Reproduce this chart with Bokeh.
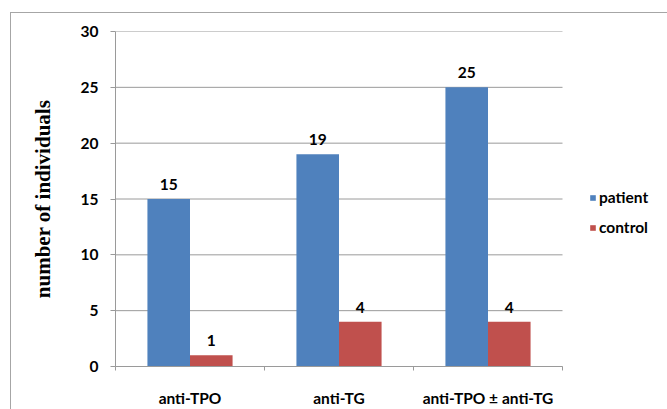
from bokeh.plotting import figure
from bokeh.models import Range1d, FixedTicker, Legend, LegendItem, ColumnDataSource
from bokeh.core.properties import value
from bokeh.embed import file_html
from bokeh.resources import INLINE

# Antibody positivity counts
categories = ["anti-TPO", "anti-TG", "anti-TPO ± anti-TG"]
patient = [15, 19, 25]
control = [1, 4, 4]
y_ticks = [0, 5, 10, 15, 20, 25, 30]

BLUE = "#4F81BD"
RED = "#C0504D"
GRID = "#9a9a9a"
FRAME = "#a6a6a6"
FONT = "Lato"
FSIZE = "15.5px"

n = len(categories)
bar_w = 1 / 3.5
centers = [i + 0.5 for i in range(n)]
x_pat = [c - bar_w / 2 for c in centers]
x_con = [c + bar_w / 2 for c in centers]

src_p = ColumnDataSource(dict(x=x_pat, top=patient, lab=[str(v) for v in patient]))
src_c = ColumnDataSource(dict(x=x_con, top=control, lab=[str(v) for v in control]))

# plot area: categories occupy 115..562 px, the rest of the frame holds the legend
PLOT_L, PLOT_R, W = 115, 562, 667
x_max = n * (W - PLOT_L) / (PLOT_R - PLOT_L)

p = figure(width=W, height=409, output_backend="svg", toolbar_location=None,
           x_range=Range1d(0, x_max), y_range=Range1d(0, 30),
           min_border_left=PLOT_L, min_border_right=0, min_border_top=31,
           min_border_bottom=38)
p.outline_line_color = None
p.background_fill_color = "white"
p.border_fill_alpha = 0
# thin grey chart-area frame (left and top edges) behind the canvas
p.styles = {
    "background-color": "white",
    "background-image": f"linear-gradient({FRAME},{FRAME}), linear-gradient({FRAME},{FRAME})",
    "background-size": "1px 100%, 100% 1px",
    "background-position": "10px 12px, 10px 12px",
    "background-repeat": "no-repeat",
}

# horizontal gridlines across the category span only
p.segment(x0=[0] * len(y_ticks), x1=[n] * len(y_ticks), y0=y_ticks, y1=y_ticks,
          line_color=GRID, line_width=1)

r_p = p.vbar(x="x", top="top", width=bar_w, source=src_p, fill_color=BLUE, line_color=None)
r_c = p.vbar(x="x", top="top", width=bar_w, source=src_c, fill_color=RED, line_color=None)

for src in (src_p, src_c):
    p.text(x="x", y="top", text="lab", source=src, text_align="center",
           text_baseline="bottom", y_offset=-9, text_font=value(FONT),
           text_font_style="bold", text_font_size=FSIZE, text_color="black")

# Y axis
p.yaxis.ticker = FixedTicker(ticks=y_ticks)
p.yaxis.axis_line_color = GRID
p.yaxis.major_tick_line_color = GRID
p.yaxis.major_tick_out = 5
p.yaxis.major_tick_in = 0
p.yaxis.minor_tick_line_color = None
p.yaxis.major_label_standoff = 12
p.yaxis.major_label_text_font = FONT
p.yaxis.major_label_text_font_style = "bold"
p.yaxis.major_label_text_font_size = FSIZE
p.yaxis.major_label_text_color = "black"
p.yaxis.axis_label = "number of individuals"
p.yaxis.axis_label_text_font = "Liberation Serif"
p.yaxis.axis_label_text_font_style = "bold"
p.yaxis.axis_label_text_font_size = "21px"
p.yaxis.axis_label_text_color = "black"
p.yaxis.axis_label_standoff = 23

# X axis: labels at category centres, ticks at category boundaries
p.xaxis.bounds = (0, n)
p.xaxis.ticker = FixedTicker(ticks=centers, minor_ticks=list(range(n + 1)))
p.xaxis.major_label_overrides = {c: name for c, name in zip(centers, categories)}
p.xaxis.axis_line_color = GRID
p.xaxis.major_tick_line_color = None
p.xaxis.minor_tick_line_color = GRID
p.xaxis.minor_tick_out = 4
p.xaxis.minor_tick_in = 0
p.xaxis.major_label_standoff = 16
p.xaxis.major_label_text_font = FONT
p.xaxis.major_label_text_font_style = "bold"
p.xaxis.major_label_text_font_size = FSIZE
p.xaxis.major_label_text_color = "black"

p.xgrid.grid_line_color = None
p.ygrid.grid_line_color = None

legend = Legend(items=[LegendItem(label="patient", renderers=[r_p]),
                       LegendItem(label="control", renderers=[r_c])],
                location=(474, 129), orientation="vertical",
                glyph_width=7, glyph_height=7, label_standoff=3,
                label_height=20, spacing=10, padding=0, margin=0,
                border_line_color=None, background_fill_alpha=0,
                label_text_font=FONT, label_text_font_style="bold",
                label_text_font_size=FSIZE, label_text_color="black")
p.add_layout(legend, "center")

open("out.html", "w").write(file_html(p, INLINE))
